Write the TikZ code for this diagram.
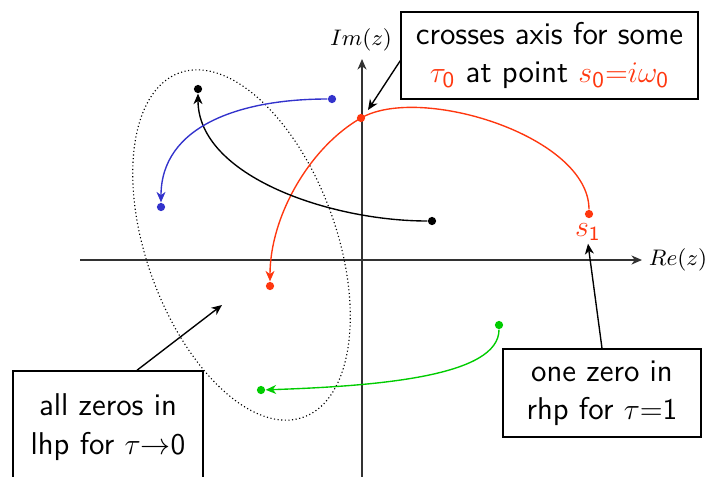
\documentclass[tikz,border=0pt]{standalone}
\usetikzlibrary{arrows.meta,calc}
\definecolor{zred}{RGB}{255,55,15}
\definecolor{zblue}{RGB}{51,51,204}
\definecolor{zgreen}{RGB}{0,204,0}
\definecolor{axisgray}{RGB}{50,50,50}
\tikzset{
  zdot/.style={circle,fill,inner sep=0pt,minimum size=3.3pt},
  arr/.style={-{Stealth[length=4.2pt,width=3.6pt,inset=1.3pt]}},
  curve/.style={line width=0.55pt,arr},
  axisline/.style={line width=0.6pt,draw=axisgray,arr},
  infobox/.style={draw,line width=0.6pt,align=center,font=\fontsize{12.6}{14.8}\selectfont\sffamily,inner sep=0pt},
  pointer/.style={line width=0.55pt,arr},
}
\begin{document}
\begin{tikzpicture}[x=0.4pt,y=0.4pt]
\useasboundingbox (0,0) rectangle (720,476);
% axes
\coordinate (xa0) at (80,216);
\coordinate (xa1) at (642,216);
\coordinate (ya0) at (362,-20);
\coordinate (ya1) at (362,417);
\draw[axisline] (xa0) -- (xa1);
\draw[axisline] (ya0) -- (ya1);
\node[font=\small] (imlab) at (361,436) {$Im(z)$};
\node[font=\small] (relab) at (678,216) {$Re(z)$};
% dotted ellipse
\draw[densely dotted,line width=0.45pt,rotate around={19.8:(241.5,231)}] (241.5,231) ellipse[x radius=95, y radius=183];
% dots
\node[zdot,zred] (s1) at (589,262) {};
\node[zdot,zred] (cross) at (361,358) {};
\node[zdot,zred] (rend) at (270,190) {};
\node[zdot,black] (kstart) at (432,255) {};
\node[zdot,black] (kend) at (198,387) {};
\node[zdot,zblue] (bstart) at (332,377) {};
\node[zdot,zblue] (bend) at (161,269) {};
\node[zdot,zgreen] (gstart) at (499,151) {};
\node[zdot,zgreen] (gend) at (261,86) {};
% curves
\draw[curve,zred] (s1) .. controls (589,340) and (420,392) .. (cross.center) .. controls (310,329) and (270,260) .. (rend);
\draw[curve,black] (kstart) .. controls (330,255) and (198,300) .. (kend);
\draw[curve,zblue] (bstart) .. controls (240,377) and (161,350) .. (bend);
\draw[curve,zgreen] (gstart) .. controls (499,100) and (380,90) .. (gend);
% s1 label
\node[zred,font=\large,inner sep=1pt] (s1lab) at (588,244) {$s_{\mathsf{1}}$};
% boxes
\node[infobox,minimum width=118.8pt,minimum height=34.8pt] (topbox) at (549.5,420.5)
  {crosses axis for some\\[0.5pt]\textcolor{zred}{$\tau_{\mathsf{0}}$} at point \textcolor{zred}{$s_{\mathsf{0}}{=}i\omega_{\mathsf{0}}$}};
\node[infobox,minimum width=79.2pt,minimum height=35.2pt] (rhpbox) at (602,83)
  {one zero in\\[0.5pt]rhp for $\tau{=}\mathsf{1}$};
\node[infobox,minimum width=76pt,minimum height=44.8pt] (lhpbox) at (108,49)
  {all zeros in\\[0.5pt]lhp for $\tau{\rightarrow}\mathsf{0}$};
% pointers
\coordinate (crosstip) at (368,366);
\coordinate (lhptip) at (222,171);
\draw[pointer] (topbox.182.5) -- (crosstip);
\draw[pointer] ($(lhpbox.north)+(29,0)$) -- (lhptip);
\draw[pointer] (rhpbox.north) -- (s1lab.south);
\end{tikzpicture}
\end{document}
